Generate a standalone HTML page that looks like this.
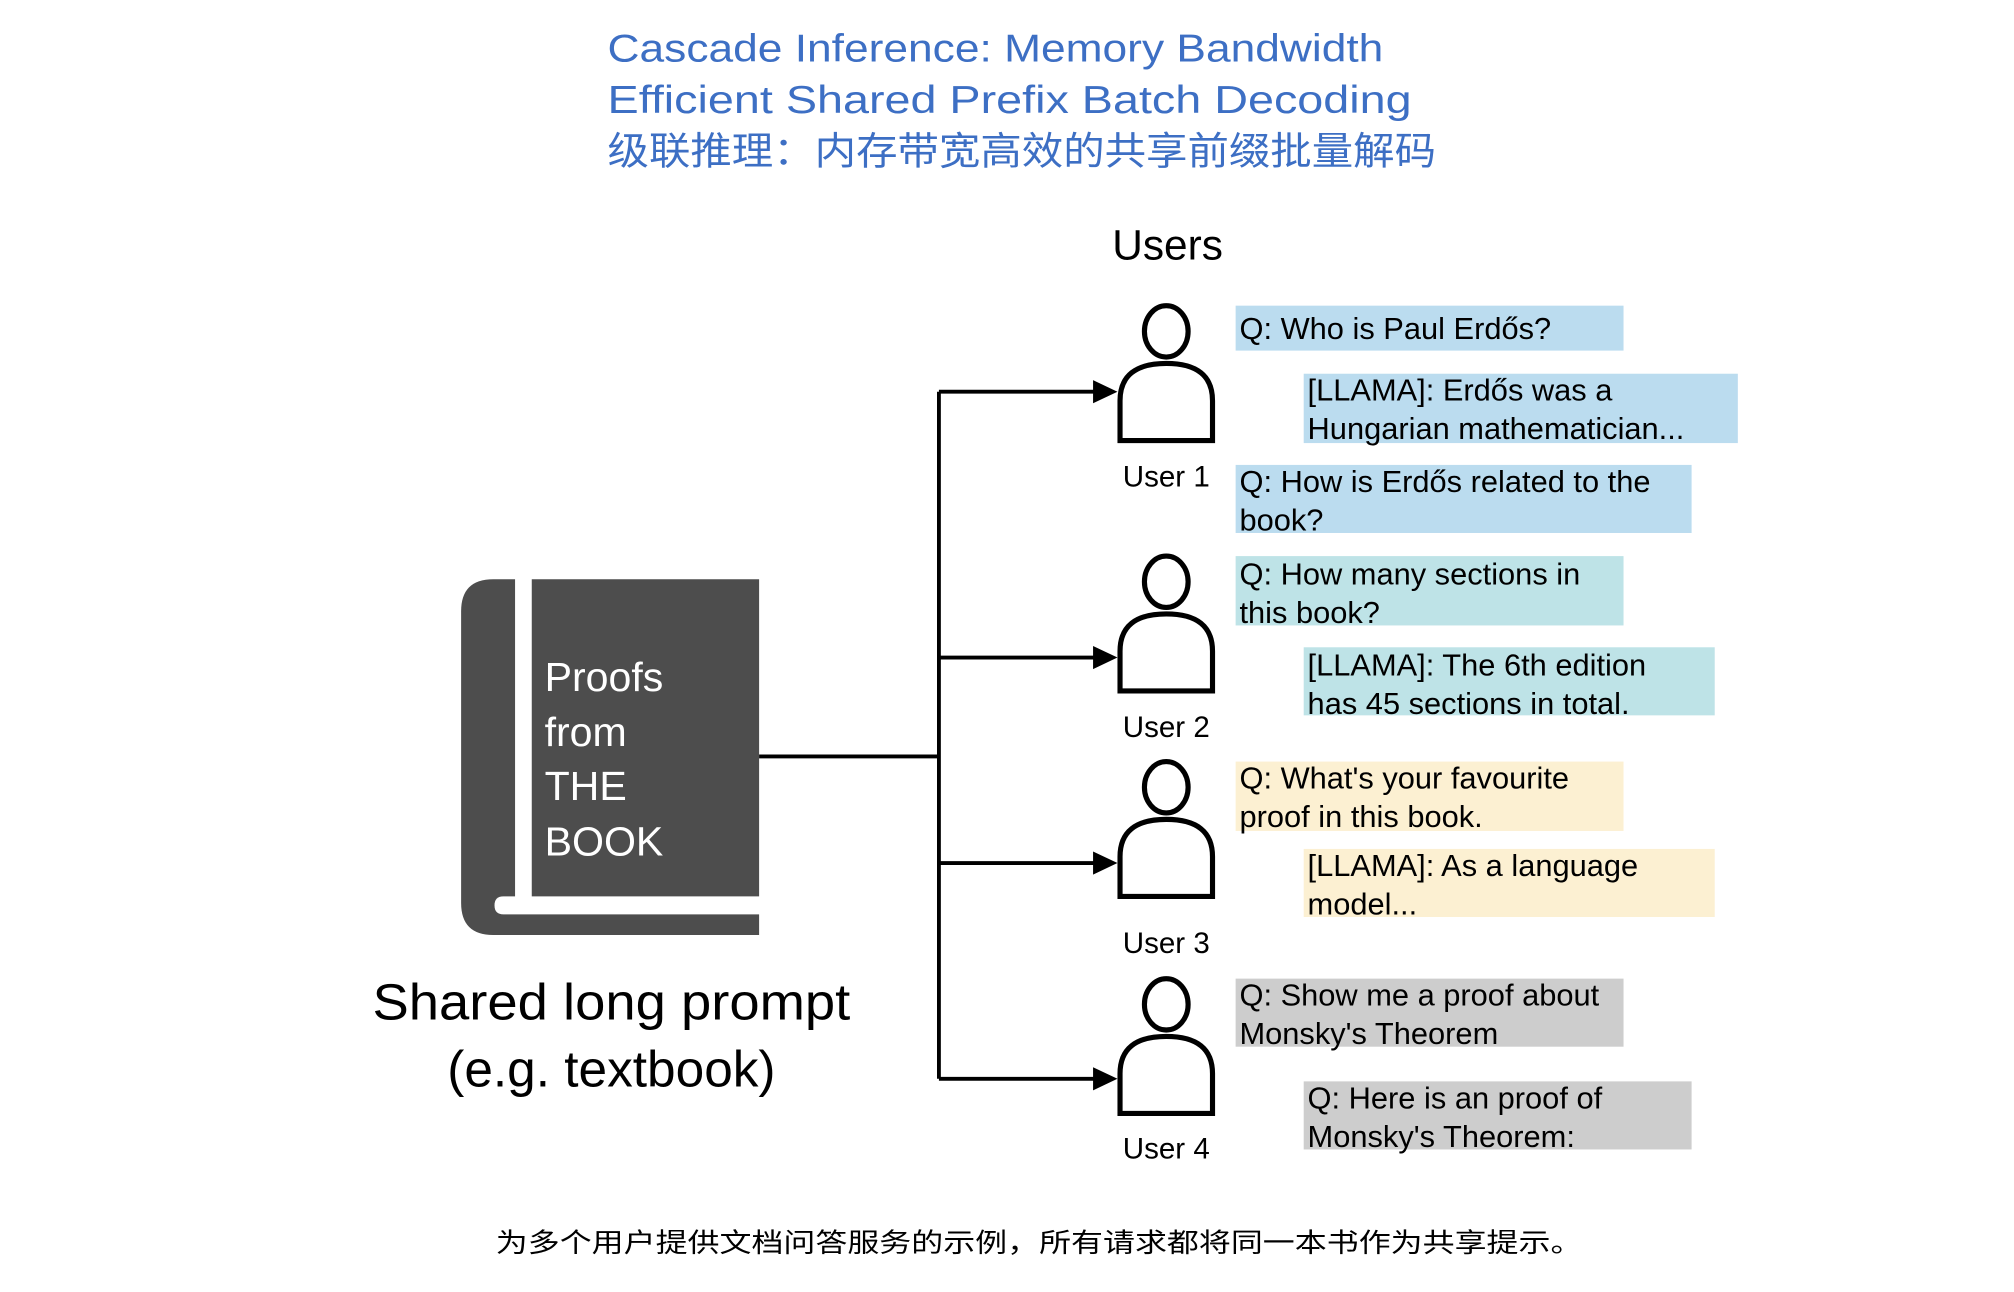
<!DOCTYPE html>
<html><head><meta charset="utf-8"><style>
html,body{margin:0;padding:0;background:#fff;width:2014px;height:1292px;overflow:hidden}
svg{display:block}
text{font-family:"Liberation Sans","Noto Sans CJK SC",sans-serif}
</style></head><body>
<svg width="2014" height="1292" viewBox="0 0 1568 1006" preserveAspectRatio="none" xmlns="http://www.w3.org/2000/svg">
<!-- title -->
<g fill="#3d6fc4" font-size="30">
<text x="473" y="48" textLength="604" lengthAdjust="spacingAndGlyphs">Cascade Inference: Memory Bandwidth</text>
<text x="473" y="88" textLength="626" lengthAdjust="spacingAndGlyphs">Efficient Shared Prefix Batch Decoding</text>
<text x="473" y="128" textLength="645" lengthAdjust="spacingAndGlyphs">级联推理：内存带宽高效的共享前缀批量解码</text>
</g>
<text x="909" y="202" font-size="33" text-anchor="middle">Users</text>

<!-- connectors -->
<g stroke="#000" stroke-width="3" fill="none">
<path d="M591,589 H731"/>
<path d="M731,305 V840"/>
<path d="M731,305 H860"/><path d="M731,512 H860"/><path d="M731,672 H860"/><path d="M731,840 H860"/>
</g>
<g fill="#000">
<path d="M851,296 L870,305 L851,314 Z"/>
<path d="M851,503 L870,512 L851,521 Z"/>
<path d="M851,663 L870,672 L851,681 Z"/>
<path d="M851,831 L870,840 L851,849 Z"/>
</g>

<!-- users -->
<g stroke="#000" stroke-width="4" fill="#fff">
<g transform="translate(0,237)"><ellipse cx="908" cy="21" rx="17" ry="20"/><path d="M872,106 L872,75 Q872,46 908,46 Q944,46 944,75 L944,106 Z"/></g>
<g transform="translate(0,432)"><ellipse cx="908" cy="21" rx="17" ry="20"/><path d="M872,106 L872,75 Q872,46 908,46 Q944,46 944,75 L944,106 Z"/></g>
<g transform="translate(0,592)"><ellipse cx="908" cy="21" rx="17" ry="20"/><path d="M872,106 L872,75 Q872,46 908,46 Q944,46 944,75 L944,106 Z"/></g>
<g transform="translate(0,761)"><ellipse cx="908" cy="21" rx="17" ry="20"/><path d="M872,106 L872,75 Q872,46 908,46 Q944,46 944,75 L944,106 Z"/></g>
</g>
<g font-size="23" text-anchor="middle">
<text x="908" y="379">User 1</text>
<text x="908" y="574">User 2</text>
<text x="908" y="742">User 3</text>
<text x="908" y="902">User 4</text>
</g>

<!-- book -->
<path d="M384,451 H591 V728 H384 Q359,728 359,703 V476 Q359,451 384,451 Z" fill="#4d4d4d"/>
<rect x="401" y="448" width="13" height="256" fill="#fff"/>
<path d="M392,698 H592 V712 H392 Q385,712 385,705 Q385,698 392,698 Z" fill="#fff"/>
<g fill="#fff" font-size="32">
<text x="424" y="538">Proofs</text>
<text x="424" y="581">from</text>
<text x="424" y="623">THE</text>
<text x="424" y="666">BOOK</text>
</g>
<g font-size="40" text-anchor="middle">
<text x="476" y="794" textLength="372" lengthAdjust="spacingAndGlyphs">Shared long prompt</text>
<text x="476" y="846">(e.g. textbook)</text>
</g>

<!-- boxes -->
<g font-size="24" fill="#000">
<rect x="962" y="238" width="302" height="35" fill="#bbdcef"/>
<text x="965" y="264">Q: Who is Paul Erdős?</text>
<rect x="1015" y="291" width="338" height="54" fill="#bbdcef"/>
<text x="1018" y="312">[LLAMA]: Erdős was a</text><text x="1018" y="342">Hungarian mathematician...</text>
<rect x="962" y="362" width="355" height="53" fill="#bbdcef"/>
<text x="965" y="383">Q: How is Erdős related to the</text><text x="965" y="413">book?</text>
<rect x="962" y="433" width="302" height="54" fill="#bee3e7"/>
<text x="965" y="455">Q: How many sections in</text><text x="965" y="485">this book?</text>
<rect x="1015" y="504" width="320" height="53" fill="#bee3e7"/>
<text x="1018" y="526">[LLAMA]: The 6th edition</text><text x="1018" y="556">has 45 sections in total.</text>
<rect x="962" y="593" width="302" height="54" fill="#fcf0d2"/>
<text x="965" y="614">Q: What's your favourite</text><text x="965" y="644">proof in this book.</text>
<rect x="1015" y="661" width="320" height="53" fill="#fcf0d2"/>
<text x="1018" y="682">[LLAMA]: As a language</text><text x="1018" y="712">model...</text>
<rect x="962" y="762" width="302" height="53" fill="#cdcdcd"/>
<text x="965" y="783">Q: Show me a proof about</text><text x="965" y="813">Monsky's Theorem</text>
<rect x="1015" y="842" width="302" height="53" fill="#cdcdcd"/>
<text x="1018" y="863">Q: Here is an proof of</text><text x="1018" y="893">Monsky's Theorem:</text>
</g>

<text x="386" y="975" font-size="21" textLength="846" lengthAdjust="spacingAndGlyphs">为多个用户提供文档问答服务的示例，所有请求都将同一本书作为共享提示。</text>
</svg>
</body></html>
